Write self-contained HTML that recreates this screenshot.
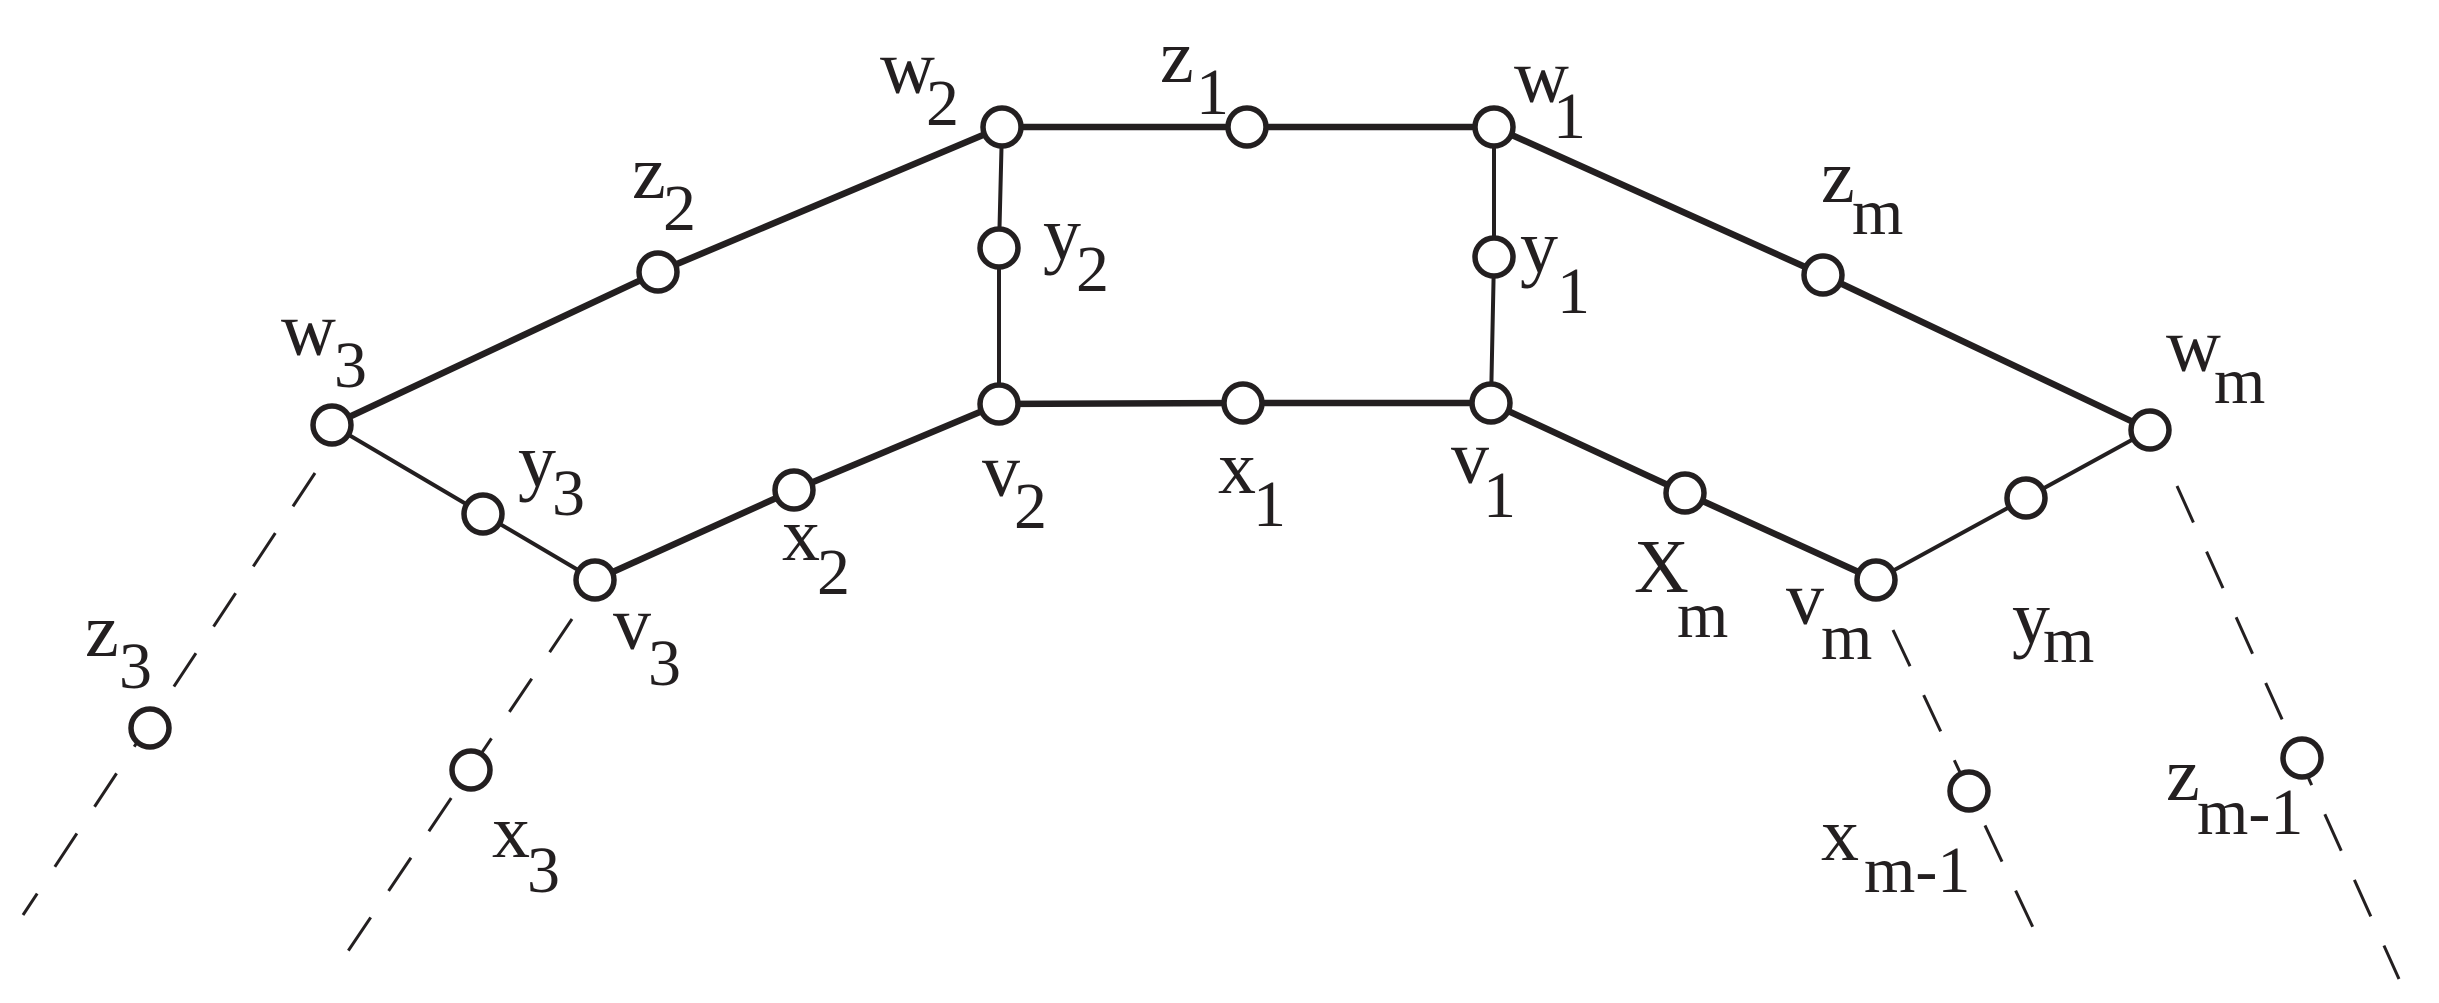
<!DOCTYPE html>
<html><head><style>body{margin:0;background:#fff}svg{display:block}text{font-family:"Liberation Serif",serif;fill:#231f20;font-size:76px}.s{font-size:66px}</style></head>
<body>
<svg width="2439" height="1003" viewBox="0 0 2439 1003" xmlns="http://www.w3.org/2000/svg">
<g stroke="#231f20" fill="none" stroke-linecap="butt">
<g stroke-width="6.5">
<polyline points="1002,127 1247,127 1494,127"/>
<polyline points="1002,127 658,272 332,425"/>
<polyline points="999,404 1243,403 1491,403"/>
<polyline points="999,404 794,490 595,580"/>
<polyline points="1494,127 1823,275 2150,430"/>
<polyline points="1491,403 1685,493 1876,580"/>
</g>
<g stroke-width="4">
<polyline points="1002,127 999,248 999,404"/>
<polyline points="1494,127 1494,257 1491,403"/>
<polyline points="332,425 483,514 595,580"/>
<polyline points="1876,580 2026,498 2150,430"/>
</g>
<g stroke-width="3" stroke-dasharray="40,32">
<line x1="315" y1="473" x2="23" y2="915"/>
<line x1="572" y1="619" x2="342" y2="960"/>
<line x1="1893" y1="630" x2="2045" y2="953"/>
<line x1="2177" y1="486" x2="2399" y2="979"/>
</g>
<g stroke-width="5.5" fill="#fff">
<circle cx="1002" cy="127" r="19"/><circle cx="1247" cy="127" r="19"/><circle cx="1494" cy="127" r="19"/>
<circle cx="658" cy="272" r="19"/><circle cx="999" cy="248" r="19"/><circle cx="332" cy="425" r="19"/>
<circle cx="999" cy="404" r="19"/><circle cx="483" cy="514" r="19"/><circle cx="794" cy="490" r="19"/>
<circle cx="595" cy="580" r="19"/><circle cx="150" cy="728" r="19"/><circle cx="471" cy="770" r="19"/>
<circle cx="1494" cy="257" r="19"/><circle cx="1491" cy="403" r="19"/><circle cx="1243" cy="403" r="19"/>
<circle cx="1685" cy="493" r="19"/><circle cx="1876" cy="580" r="19"/><circle cx="2026" cy="498" r="19"/>
<circle cx="2150" cy="430" r="19"/><circle cx="1823" cy="275" r="19"/><circle cx="1969" cy="791" r="19"/>
<circle cx="2302" cy="758" r="19"/>
</g>
</g>
<text x="880" y="93">w</text><text class="s" x="926" y="125">2</text>
<text x="1160" y="82">z</text><text class="s" x="1196" y="114">1</text>
<text x="632" y="198">z</text><text class="s" x="663" y="230">2</text>
<text x="1043" y="259">y</text><text class="s" x="1076" y="291">2</text>
<text x="281" y="355">w</text><text class="s" x="334" y="387">3</text>
<text x="518" y="486">y</text><text class="s" x="552" y="515">3</text>
<text x="982" y="496">v</text><text class="s" x="1014" y="528">2</text>
<text x="782" y="560">x</text><text class="s" x="817" y="594">2</text>
<text x="613" y="649">v</text><text class="s" x="648" y="685">3</text>
<text x="85" y="656">z</text><text class="s" x="119" y="688">3</text>
<text x="492" y="857">x</text><text class="s" x="527" y="892">3</text>
<text x="1514" y="102">w</text><text class="s" x="1553" y="138">1</text>
<text x="1520" y="272">y</text><text class="s" x="1557" y="313">1</text>
<text x="1821" y="202">z</text><text class="s" x="1852" y="234">m</text>
<text x="2166" y="371">w</text><text class="s" x="2214" y="403">m</text>
<text x="1218" y="493">x</text><text class="s" x="1253" y="526">1</text>
<text x="1451" y="483">v</text><text class="s" x="1483" y="517">1</text>
<text x="1634" y="592">X</text><text class="s" x="1677" y="637">m</text>
<text x="1786" y="624">v</text><text class="s" x="1821" y="659">m</text>
<text x="2012" y="643">y</text><text class="s" x="2043" y="662">m</text>
<text x="1821" y="860">x</text><text class="s" x="1864" y="892">m-1</text>
<text x="2166" y="800">z</text><text class="s" x="2197" y="834">m-1</text>
</svg>
</body></html>
